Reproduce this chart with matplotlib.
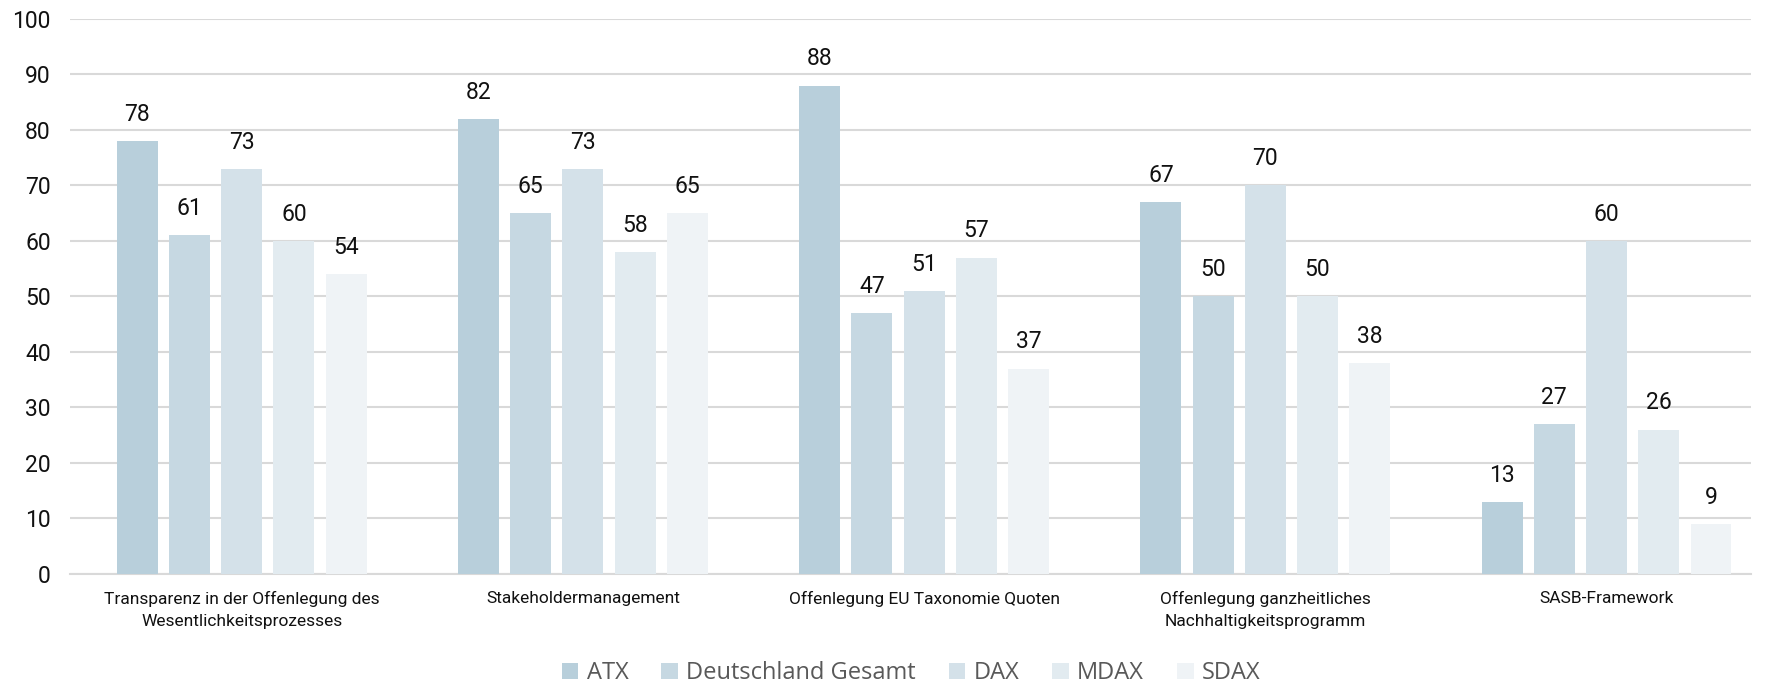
import numpy as np
import matplotlib.pyplot as plt

# Data
categories = ["Transparenz in der Offenlegung des\nWesentlichkeitsprozesses",
              "Stakeholdermanagement",
              "Offenlegung EU Taxonomie Quoten",
              "Offenlegung ganzheitliches\nNachhaltigkeitsprogramm",
              "SASB-Framework"]
series_names = ["ATX", "Deutschland Gesamt", "DAX", "MDAX", "SDAX"]
atx = [78, 82, 88, 67, 13]
deutschland = [61, 65, 47, 50, 27]
dax = [73, 73, 51, 70, 60]
mdax = [60, 58, 57, 50, 26]
sdax = [54, 65, 37, 38, 9]
y_ticks = [0, 10, 20, 30, 40, 50, 60, 70, 80, 90, 100]

series = [atx, deutschland, dax, mdax, sdax]
colors = ["#b8cfdb", "#c6d8e2", "#d4e1e9", "#e2ebf0", "#eff3f6"]

plt.rcParams['font.family'] = ['Roboto', 'DejaVu Sans']

fig = plt.figure(figsize=(17.83, 6.83), dpi=100)
ax = fig.add_axes([0.0393, 0.1596, 0.9427, 0.8126])

x = np.arange(len(categories))
pitch = 0.153
width = 0.12
for i, (vals, name, c) in enumerate(zip(series, series_names, colors)):
    pos = x + (i - 2) * pitch
    bars = ax.bar(pos, vals, width, color=c, label=name, zorder=3)
    for b, v in zip(bars, vals):
        ax.annotate(str(v), (b.get_x() + b.get_width() / 2, v),
                    xytext=(0, 11), textcoords='offset points',
                    ha='center', va='bottom', fontsize=16.5, color='#111111')

ax.set_xlim(-0.503, 4.423)
ax.set_ylim(0, 100)
ax.set_yticks(y_ticks)
ax.yaxis.grid(True, color='#d9d9d9', linewidth=1.5, zorder=0)
ax.set_axisbelow(True)
for s in ['top', 'right', 'left']:
    ax.spines[s].set_visible(False)
ax.spines['bottom'].set_color('#d9d9d9')
ax.spines['bottom'].set_linewidth(1.5)
ax.tick_params(axis='y', length=0, pad=14, labelsize=16.5, labelcolor='#111111')
ax.tick_params(axis='x', length=0, pad=12, labelsize=12.5, labelcolor='#111111')
ax.set_xticks(x)
ax.set_xticklabels(categories, linespacing=1.6)

fig.legend(*ax.get_legend_handles_labels(), loc='center', bbox_to_anchor=(0.511, 0.014),
           ncol=5, frameon=False, prop={'family': ['Open Sans', 'DejaVu Sans'], 'size': 17},
           labelcolor='#595959', handlelength=0.7, handleheight=0.7,
           handletextpad=0.35, columnspacing=1.4)

fig.savefig("out.png", dpi=100)
